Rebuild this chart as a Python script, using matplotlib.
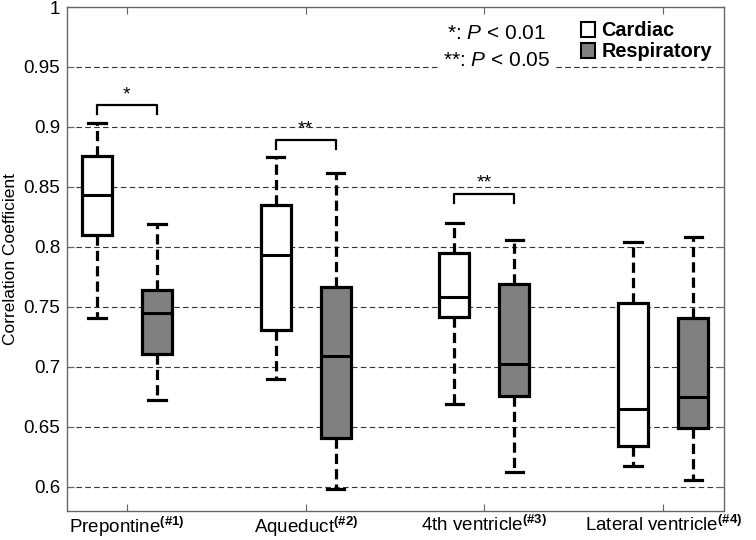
import matplotlib
matplotlib.use("Agg")
import matplotlib.pyplot as plt
from matplotlib.patches import Patch

plt.rcParams['font.family'] = ['Liberation Sans', 'DejaVu Sans']
plt.rcParams['mathtext.fontset'] = 'custom'
plt.rcParams['mathtext.rm'] = 'Liberation Sans'
plt.rcParams['mathtext.it'] = 'Liberation Sans:italic'
plt.rcParams['mathtext.bf'] = 'Liberation Sans:bold'

# Données
regions = [r'Prepontine$^{\mathbf{(\#1)}}$', r'Aqueduct$^{\mathbf{(\#2)}}$',
           r'4th ventricle$^{\mathbf{(\#3)}}$', r'Lateral ventricle$^{\mathbf{(\#4)}}$']

card_low = [0.741, 0.690, 0.669, 0.617]
card_q1 = [0.810, 0.731, 0.742, 0.634]
card_med = [0.843, 0.793, 0.758, 0.665]
card_q3 = [0.876, 0.835, 0.795, 0.753]
card_high = [0.903, 0.875, 0.820, 0.804]

resp_low = [0.672, 0.598, 0.612, 0.606]
resp_q1 = [0.711, 0.641, 0.676, 0.649]
resp_med = [0.745, 0.709, 0.702, 0.675]
resp_q3 = [0.764, 0.767, 0.769, 0.741]
resp_high = [0.819, 0.862, 0.806, 0.808]

# significativité : (groupe, hauteur du crochet, texte)
sig_group = [0, 1, 2]
sig_y = [0.918, 0.889, 0.844]
sig_txt = ['*', '**', '**']

yticks = [0.6, 0.65, 0.7, 0.75, 0.8, 0.85, 0.9, 0.95, 1.0]
ytick_labels = ['0.6', '0.65', '0.7', '0.75', '0.8', '0.85', '0.9', '0.95', '1']

fig = plt.figure(figsize=(7.56, 5.4), dpi=100)
ax = fig.add_axes([0.0886, 0.054, 0.869, 0.933])

offset = 0.168
width = 0.168


def stats(lo, q1, med, q3, hi):
    return [dict(whislo=a, q1=b, med=c, q3=d, whishi=e, fliers=[])
            for a, b, c, d, e in zip(lo, q1, med, q3, hi)]


pos = [i + 1 for i in range(len(regions))]
common = dict(widths=width, patch_artist=True, showfliers=False,
              medianprops=dict(color='black', lw=2.2),
              whiskerprops=dict(color='black', lw=2.3, linestyle=(0, (3.2, 1.6))),
              capprops=dict(color='black', lw=2.3), capwidths=0.097)

b1 = ax.bxp(stats(card_low, card_q1, card_med, card_q3, card_high),
            positions=[p - offset for p in pos],
            boxprops=dict(facecolor='white', edgecolor='black', lw=2.3), **common)
b2 = ax.bxp(stats(resp_low, resp_q1, resp_med, resp_q3, resp_high),
            positions=[p + offset for p in pos],
            boxprops=dict(facecolor='#808080', edgecolor='black', lw=2.3), **common)
for b in (b1, b2):
    for item in b['boxes'] + b['medians'] + b['whiskers'] + b['caps']:
        item.set_zorder(3)

# crochets de significativité
for g, y, t in zip(sig_group, sig_y, sig_txt):
    x0 = pos[g] - offset
    x1 = pos[g] + offset
    ax.plot([x0, x0, x1, x1], [y - 0.007, y, y, y - 0.007], color='black', lw=1.6, zorder=3)
    ax.text((x0 + x1) / 2, y + 0.002, t, ha='center', va='bottom', fontsize=14, zorder=4)

ax.set_xlim(0.665, 4.34)
ax.set_ylim(0.58, 1.0)
ax.set_xticks(pos)
ax.set_xticklabels(regions, fontsize=13.5)
ax.set_yticks(yticks)
ax.set_yticklabels(ytick_labels, fontsize=13.5)
ax.set_ylabel('Correlation Coefficient', fontsize=12.5, labelpad=4)

for y in yticks[:-1]:
    ax.axhline(y, color='#333333', lw=0.8, linestyle=(0, (5, 3)), zorder=1)

for s in ax.spines.values():
    s.set_color('#666666')
    s.set_linewidth(1.0)
ax.tick_params(direction='in', length=5, color='#666666', top=True, right=True)
ax.tick_params(axis='x', pad=3)
ax.tick_params(axis='y', pad=5)

# texte des P
ax.text(0.578, 0.948, '*: $P$ < 0.01', transform=ax.transAxes, fontsize=15,
        va='center', ha='left', zorder=5,
        bbox=dict(facecolor='white', edgecolor='none', pad=1))
ax.text(0.573, 0.893, '**: $P$ < 0.05', transform=ax.transAxes, fontsize=15,
        va='center', ha='left', zorder=5,
        bbox=dict(facecolor='white', edgecolor='none', pad=4))

handles = [Patch(facecolor='white', edgecolor='black', lw=1.5, label='Cardiac'),
           Patch(facecolor='#808080', edgecolor='black', lw=1.5, label='Respiratory')]
leg = ax.legend(handles=handles, loc='upper right', bbox_to_anchor=(1.0, 0.995),
                frameon=False, handlelength=0.7, handleheight=0.85, handletextpad=0.35,
                labelspacing=0.1, borderaxespad=0.2,
                prop=dict(family='Liberation Sans', weight='bold', size=14.3))
leg.set_zorder(6)

fig.savefig('out.png', dpi=100)
